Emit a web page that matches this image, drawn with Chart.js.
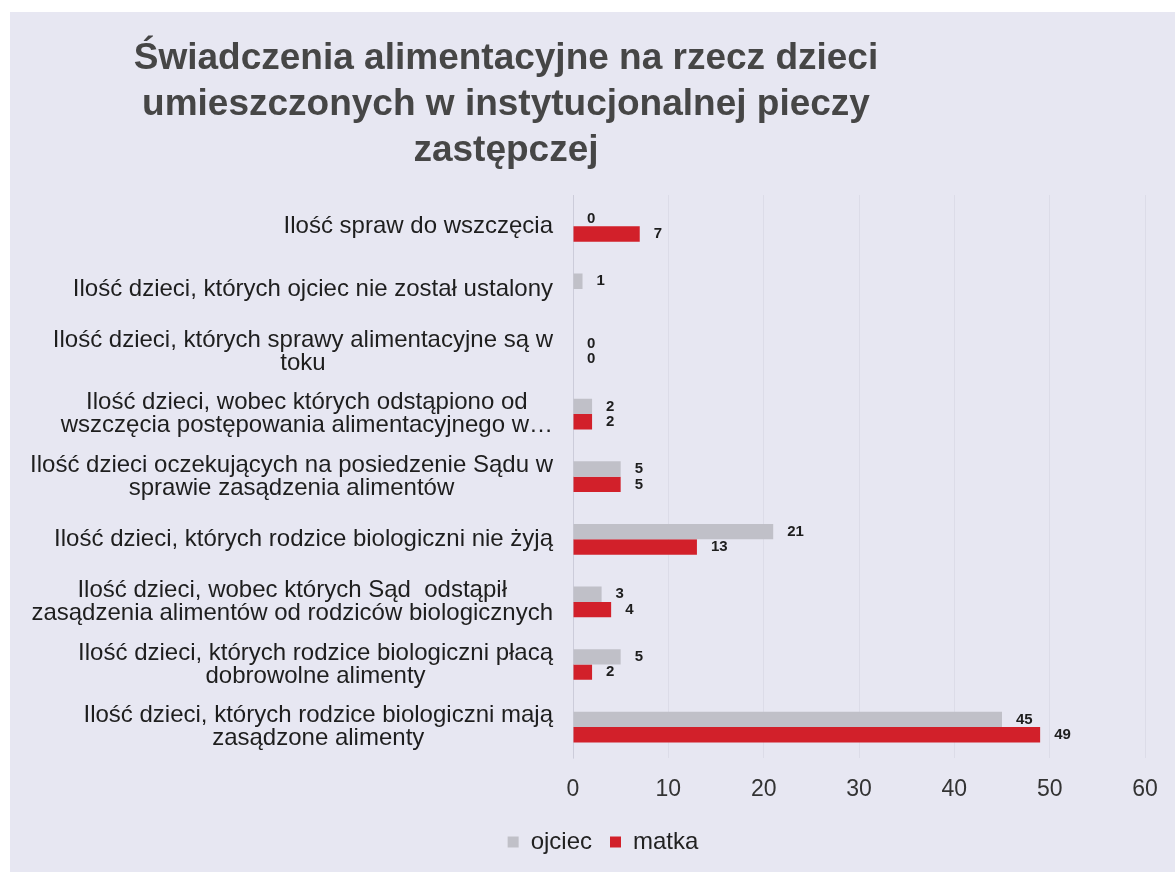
<!DOCTYPE html>
<html>
<head>
<meta charset="utf-8">
<script src="https://cdn.jsdelivr.net/npm/chart.js@4"></script>
<style>
  html, body { margin: 0; padding: 0; background: #fff; }
  #wrap { width: 1175px; height: 872px; }
</style>
</head>
<body>
<div id="wrap"><canvas id="chart" width="1175" height="872"></canvas></div>
<script>
// data
const titleLines = [
    'Świadczenia alimentacyjne na rzecz dzieci',
    'umieszczonych w instytucjonalnej pieczy',
    'zastępczej'
];
const categories = [
    ['Ilość spraw do wszczęcia'],
    ['Ilość dzieci, których ojciec nie został ustalony'],
    ['Ilość dzieci, których sprawy alimentacyjne są w', 'toku'],
    ['Ilość dzieci, wobec których odstąpiono od', 'wszczęcia postępowania alimentacyjnego w…'],
    ['Ilość dzieci oczekujących na posiedzenie Sądu w', 'sprawie zasądzenia alimentów'],
    ['Ilość dzieci, których rodzice biologiczni nie żyją'],
    ['Ilość dzieci, wobec których Sąd  odstąpił', 'zasądzenia alimentów od rodziców biologicznych'],
    ['Ilość dzieci, których rodzice biologiczni płacą', 'dobrowolne alimenty'],
    ['Ilość dzieci, których rodzice biologiczni mają', 'zasądzone alimenty']
];
const ojciec = [0, 1, 0, 2, 5, 21, 3, 5, 45];
const matka = [7, null, 0, 2, 5, 13, 4, 2, 49];
const xMin = 0;
const xMax = 60;
const xStep = 10;

const FONT = "'Liberation Sans', Arial, sans-serif";
Chart.defaults.font.family = FONT;

const ctx = document.getElementById('chart').getContext('2d');

// lavender scan background, white strip top and left
const bgPlugin = {
    id: 'bg',
    beforeDraw(chart) {
        const c = chart.ctx;
        c.save();
        c.fillStyle = '#ffffff';
        c.fillRect(0, 0, chart.width, chart.height);
        c.fillStyle = '#e7e7f2';
        c.fillRect(10, 12, chart.width - 10, chart.height - 12);
        c.restore();
    }
};

const titlePlugin = {
    id: 'bigTitle',
    afterDraw(chart) {
        const c = chart.ctx;
        c.save();
        c.font = "bold 37px " + FONT;
        c.fillStyle = '#464646';
        c.textAlign = 'center';
        c.textBaseline = 'middle';
        titleLines.forEach((t, i) => {
            c.fillText(t, 506, 59 + i * 46);
        });
        c.restore();
    }
};

// category labels: block right aligned, lines centered to each other
const catLabels = {
    id: 'catLabels',
    afterDraw(chart) {
        const c = chart.ctx;
        const yScale = chart.scales.y;
        const right = 553;
        const lh = 23;
        c.save();
        c.font = "24px " + FONT;
        c.fillStyle = '#1e1e1e';
        c.textAlign = 'center';
        c.textBaseline = 'middle';
        categories.forEach((lines, i) => {
            const y = yScale.getPixelForValue(i);
            const w = Math.max(...lines.map(l => c.measureText(l).width));
            const cx = right - w / 2;
            const y0 = y - (lines.length - 1) * lh / 2;
            lines.forEach((l, j) => c.fillText(l, cx, y0 + j * lh));
        });
        c.restore();
    }
};

const valueLabels = {
    id: 'valueLabels',
    afterDatasetsDraw(chart) {
        const c = chart.ctx;
        c.save();
        c.font = "bold 15px " + FONT;
        c.fillStyle = '#1e1e1e';
        c.textAlign = 'left';
        c.textBaseline = 'middle';
        chart.data.datasets.forEach((ds, di) => {
            const meta = chart.getDatasetMeta(di);
            meta.data.forEach((bar, i) => {
                const v = ds.data[i];
                if (v === null || v === undefined) return;
                c.fillText(String(v), bar.x + 14, bar.y);
            });
        });
        c.restore();
    }
};

let chart = new Chart(ctx, {
    type: 'bar',
    data: {
        labels: categories,
        datasets: [{
            label: 'ojciec',
            data: ojciec,
            backgroundColor: '#c0c0c8',
            borderWidth: 0,
            categoryPercentage: 0.49,
            barPercentage: 1.0
        }, {
            label: 'matka',
            data: matka,
            backgroundColor: '#d2202a',
            borderWidth: 0,
            categoryPercentage: 0.49,
            barPercentage: 1.0
        }]
    },
    options: {
        indexAxis: 'y',
        responsive: false,
        animation: false,
        layout: {
            padding: { top: 195, right: 30, bottom: 8, left: 61 }
        },
        scales: {
            x: {
                min: xMin,
                max: xMax,
                ticks: {
                    stepSize: xStep,
                    color: '#333',
                    font: { size: 23 },
                    padding: 17
                },
                grid: {
                    color: 'rgba(90, 90, 120, 0.07)',
                    drawTicks: false
                },
                border: { display: false },
                afterFit(scale) {
                    scale.height -= 8;
                }
            },
            y: {
                ticks: { display: false },
                grid: { display: false },
                border: { display: true, color: 'rgba(90, 90, 120, 0.12)' },
                afterFit(scale) {
                    scale.width = 573 - 61;
                }
            }
        },
        plugins: {
            legend: {
                position: 'bottom',
                labels: {
                    boxWidth: 11,
                    boxHeight: 11,
                    color: '#222',
                    font: { size: 24 },
                    padding: 18
                }
            },
            tooltip: { enabled: false },
            title: { display: false }
        }
    },
    plugins: [bgPlugin, titlePlugin, catLabels, valueLabels]
});
</script>
</body>
</html>
